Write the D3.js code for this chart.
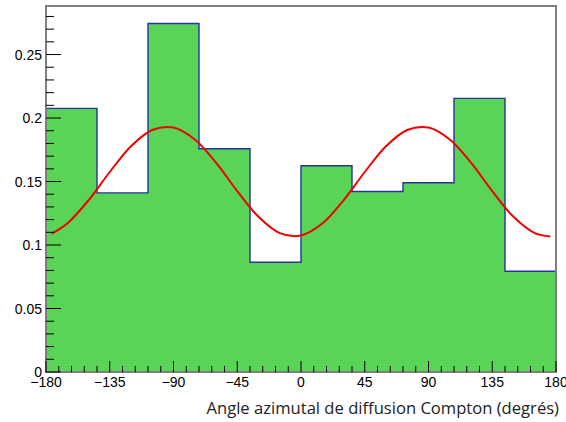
<!DOCTYPE html>
<html>
<head>
<meta charset="utf-8">
<script src="https://cdn.jsdelivr.net/npm/d3@7"></script>
<style>
  html, body { margin: 0; padding: 0; background: #fff; }
  svg { display: block; }
</style>
</head>
<body>
<svg id="chart" width="566" height="422"></svg>
<script>
// Histogram of the Compton azimuthal scattering angle (10 bins, -180..180 deg)
const binEdges = [-180, -144, -108, -72, -36, 0, 36, 72, 108, 144, 180];
const binCounts = [0.2076, 0.1411, 0.2745, 0.1758, 0.0864, 0.1624, 0.1421, 0.1490, 0.2155, 0.0793];

// Fitted modulation curve (angle in degrees, normalised count)
const fitAngles = [-176, -165, -150, -135, -120, -105, -90, -75, -60, -45, -30, -15, 0,
                   15, 30, 45, 60, 75, 90, 105, 120, 135, 150, 165, 176];
const fitValues = [0.1089, 0.1169, 0.1352, 0.1575, 0.1778, 0.1906, 0.1925, 0.1831, 0.1648,
                   0.1425, 0.1222, 0.1094, 0.1075, 0.1169, 0.1352, 0.1575, 0.1778, 0.1906,
                   0.1925, 0.1831, 0.1648, 0.1425, 0.1222, 0.1094, 0.1068];

const xMajorTicks = [-180, -135, -90, -45, 0, 45, 90, 135, 180];
const yMajorTicks = [0, 0.05, 0.1, 0.15, 0.2, 0.25];
const xTitle = "Angle azimutal de diffusion Compton (degrés)";

const svg = d3.select("#chart");
const padL = 46, padR = 556, padT = 6, padB = 372;

const x = d3.scaleLinear().domain([-180, 180]).range([padL, padR]);
const yMax = d3.max(binCounts) * 1.05;
const y = d3.scaleLinear().domain([0, yMax]).range([padB, padT]);

const bins = binCounts.map((v, i) => ({ x0: binEdges[i], x1: binEdges[i + 1], v }));

// filled bars
svg.append("g").selectAll("rect").data(bins).join("rect")
  .attr("x", d => x(d.x0))
  .attr("width", d => x(d.x1) - x(d.x0))
  .attr("y", d => y(d.v))
  .attr("height", d => y(0) - y(d.v))
  .attr("fill", "#59d457");

// step outline of the histogram
const stepPts = [];
bins.forEach(d => { stepPts.push([x(d.x0), y(d.v)]); stepPts.push([x(d.x1), y(d.v)]); });
svg.append("path")
  .attr("d", d3.line()(stepPts))
  .attr("fill", "none")
  .attr("stroke", "#24349c")
  .attr("stroke-width", 1.4);

// fit curve
svg.append("path")
  .datum(fitAngles.map((a, i) => [a, fitValues[i]]))
  .attr("d", d3.line().x(d => x(d[0])).y(d => y(d[1])).curve(d3.curveCatmullRom))
  .attr("fill", "none")
  .attr("stroke", "#f00000")
  .attr("stroke-width", 2);

// frame
svg.append("rect")
  .attr("x", padL).attr("y", padT)
  .attr("width", padR - padL).attr("height", padB - padT)
  .attr("fill", "none")
  .attr("stroke", "#7f7f7f")
  .attr("stroke-width", 2);

// x axis ticks (inside the frame) and labels
const xAxis = svg.append("g");
const xMinor = d3.range(-180, 180.001, 9).filter(v => !xMajorTicks.includes(v));
xAxis.selectAll("line.minor").data(xMinor).join("line")
  .attr("class", "minor")
  .attr("x1", d => x(d)).attr("x2", d => x(d))
  .attr("y1", padB).attr("y2", padB - 6)
  .attr("stroke", "#000").attr("stroke-width", 1);
xAxis.selectAll("line.major").data(xMajorTicks).join("line")
  .attr("class", "major")
  .attr("x1", d => x(d)).attr("x2", d => x(d))
  .attr("y1", padB).attr("y2", padB - 11)
  .attr("stroke", "#000").attr("stroke-width", 1);
xAxis.selectAll("text").data(xMajorTicks).join("text")
  .attr("x", d => x(d)).attr("y", padB + 15)
  .attr("text-anchor", "middle")
  .attr("font-family", "Liberation Sans, Arial, sans-serif")
  .attr("font-size", 14)
  .attr("fill", "#000")
  .text(d => d < 0 ? "\u2212" + Math.abs(d) : String(d));

// y axis ticks and labels
const yAxis = svg.append("g");
const yMinor = d3.range(0, 0.2801, 0.01).map(v => +v.toFixed(2))
  .filter(v => !yMajorTicks.includes(v) && v <= yMax);
yAxis.selectAll("line.minor").data(yMinor).join("line")
  .attr("class", "minor")
  .attr("x1", padL).attr("x2", padL + 8)
  .attr("y1", d => y(d)).attr("y2", d => y(d))
  .attr("stroke", "#000").attr("stroke-width", 1);
yAxis.selectAll("line.major").data(yMajorTicks).join("line")
  .attr("class", "major")
  .attr("x1", padL).attr("x2", padL + 15)
  .attr("y1", d => y(d)).attr("y2", d => y(d))
  .attr("stroke", "#000").attr("stroke-width", 1);
yAxis.selectAll("text").data(yMajorTicks).join("text")
  .attr("x", padL - 4).attr("y", d => y(d) + 5)
  .attr("text-anchor", "end")
  .attr("font-family", "Liberation Sans, Arial, sans-serif")
  .attr("font-size", 14)
  .attr("fill", "#000")
  .text(d => d === 0 ? "0" : String(d));

// axis title, right-aligned under the axis
svg.append("text")
  .attr("x", 559).attr("y", 414)
  .attr("text-anchor", "end")
  .attr("font-family", "Open Sans, Noto Sans, sans-serif")
  .attr("font-size", 16.6)
  .attr("fill", "#222")
  .text(xTitle);
</script>
</body>
</html>
